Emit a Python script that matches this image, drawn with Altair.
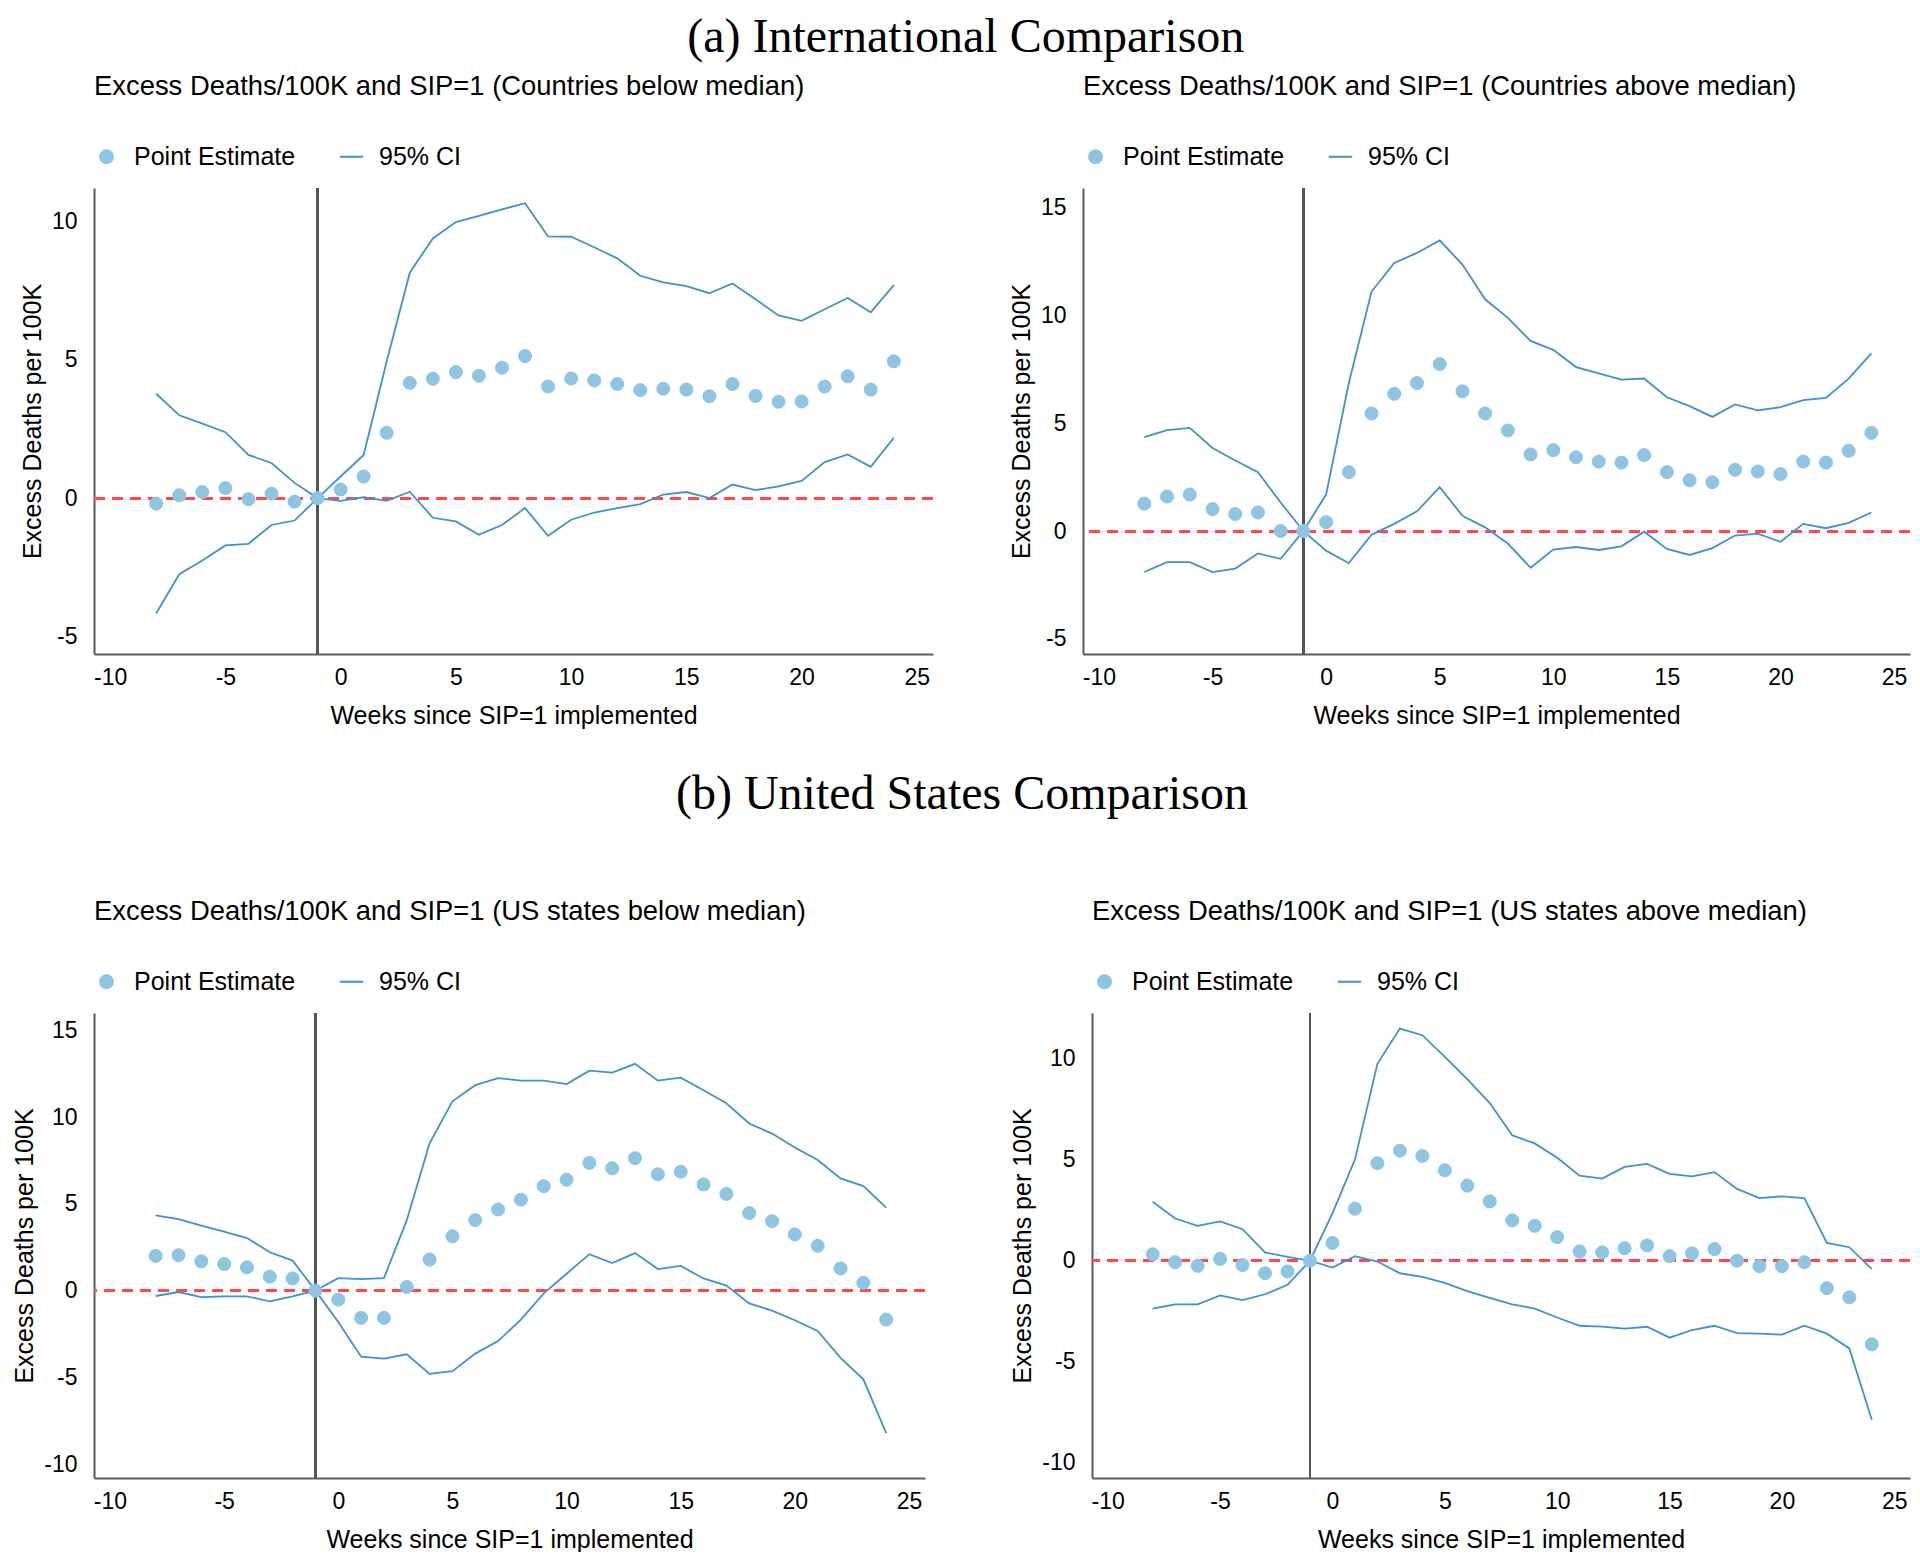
import altair as alt
import pandas as pd

weeks = list(range(-8, 25))

# (a) International, countries below median
a_est = [-0.2, 0.1, 0.22, 0.36, -0.04, 0.16, -0.13, 0.0, 0.31, 0.78, 2.36, 4.16, 4.31, 4.55, 4.42, 4.71,
         5.13, 4.03, 4.32, 4.25, 4.12, 3.9, 3.95, 3.92, 3.68, 4.12, 3.69, 3.48, 3.49, 4.03, 4.40, 3.92, 4.94]
a_hi = [3.77, 2.99, 2.69, 2.38, 1.56, 1.27, 0.55, 0.0, 0.78, 1.56, 4.94, 8.14, 9.38, 9.97, 10.19, 10.43,
        10.65, 9.45, 9.44, 9.06, 8.66, 8.03, 7.79, 7.66, 7.40, 7.75, 7.18, 6.60, 6.40, 6.82, 7.23, 6.71, 7.69]
a_lo = [-4.16, -2.75, -2.25, -1.71, -1.65, -0.97, -0.81, 0.0, -0.1, 0.03, -0.1, 0.23, -0.71, -0.84, -1.32, -0.97,
        -0.36, -1.36, -0.78, -0.52, -0.36, -0.22, 0.13, 0.22, 0.0, 0.49, 0.29, 0.42, 0.62, 1.30, 1.58, 1.13, 2.18]

# (a) International, countries above median
b_est = [1.27, 1.60, 1.69, 1.02, 0.79, 0.86, 0.0, 0.0, 0.41, 2.73, 5.45, 6.36, 6.86, 7.74, 6.48, 5.45,
         4.66, 3.55, 3.75, 3.42, 3.22, 3.17, 3.52, 2.73, 2.35, 2.26, 2.84, 2.76, 2.64, 3.22, 3.17, 3.72, 4.55]
b_hi = [4.35, 4.68, 4.78, 3.85, 3.27, 2.73, 1.32, 0.0, 1.69, 6.86, 11.1, 12.43, 12.89, 13.47, 12.35, 10.74,
        9.88, 8.81, 8.40, 7.60, 7.31, 7.02, 7.07, 6.20, 5.79, 5.29, 5.87, 5.59, 5.74, 6.07, 6.17, 7.06, 8.23]
b_lo = [-1.90, -1.44, -1.44, -1.90, -1.74, -1.04, -1.29, 0.0, -0.91, -1.49, -0.17, 0.33, 0.91, 2.03, 0.71, 0.17,
        -0.58, -1.70, -0.86, -0.74, -0.88, -0.71, -0.03, -0.83, -1.11, -0.79, -0.21, -0.12, -0.50, 0.33, 0.13, 0.38, 0.86]

# (b) United States, states below median
c_est = [2.0, 2.04, 1.69, 1.53, 1.34, 0.80, 0.70, 0.0, -0.52, -1.57, -1.57, 0.21, 1.79, 3.13, 4.06, 4.68,
         5.24, 6.02, 6.39, 7.36, 7.05, 7.63, 6.70, 6.85, 6.12, 5.57, 4.47, 4.0, 3.24, 2.58, 1.28, 0.45, -1.67]
c_hi = [4.33, 4.12, 3.75, 3.40, 3.03, 2.21, 1.73, 0.0, 0.72, 0.66, 0.72, 4.06, 8.49, 10.91, 11.84, 12.25,
        12.1, 12.1, 11.9, 12.68, 12.56, 13.07, 12.1, 12.27, 11.55, 10.80, 9.63, 9.05, 8.25, 7.53, 6.47, 6.02, 4.78]
c_lo = [-0.31, -0.08, -0.37, -0.33, -0.33, -0.62, -0.33, 0.0, -1.81, -3.81, -3.92, -3.67, -4.80, -4.64, -3.63, -2.91,
        -1.67, -0.16, 0.97, 2.10, 1.59, 2.16, 1.24, 1.42, 0.70, 0.29, -0.74, -1.15, -1.71, -2.33, -3.88, -5.11, -8.21]

# (b) United States, states above median
d_est = [0.32, -0.07, -0.25, 0.09, -0.21, -0.62, -0.53, 0.0, 0.88, 2.58, 4.83, 5.45, 5.19, 4.48, 3.72, 2.94,
         2.0, 1.73, 1.17, 0.46, 0.41, 0.62, 0.76, 0.23, 0.37, 0.58, 0.0, -0.27, -0.27, -0.07, -1.36, -1.81, -4.14]
d_hi = [2.92, 2.09, 1.73, 1.95, 1.56, 0.41, 0.19, 0.0, 2.35, 5.01, 9.75, 11.5, 11.17, 10.1, 8.99, 7.81,
        6.21, 5.81, 5.1, 4.21, 4.07, 4.65, 4.80, 4.30, 4.18, 4.39, 3.56, 3.10, 3.19, 3.10, 0.88, 0.67, -0.42]
d_lo = [-2.37, -2.16, -2.16, -1.72, -1.95, -1.66, -1.19, 0.0, -0.34, 0.23, -0.04, -0.62, -0.80, -1.10, -1.50, -1.84,
        -2.16, -2.37, -2.81, -3.22, -3.26, -3.36, -3.27, -3.81, -3.43, -3.22, -3.58, -3.61, -3.66, -3.22, -3.61, -4.34, -7.88]

series_names = ["Point Estimate", "95% CI"]
x_ticks = [-10, -5, 0, 5, 10, 15, 20, 25]

LIGHT = "#8ec5e2"
BLUE = "#3f90d6"
RED = "#ff4a4a"
SANS = "Liberation Sans"
SERIF = "Liberation Serif"
HYPHEN = "'' + datum.value"


def panel(title, est, hi, lo, ydom, yvals, width, height):
    n = len(weeks)
    df_pts = pd.DataFrame({"week": weeks, "value": est, "series": [series_names[0]] * n})
    df_ci = pd.DataFrame({
        "week": weeks + weeks,
        "value": hi + lo,
        "series": [series_names[1]] * (2 * n),
        "bound": ["upper"] * n + ["lower"] * n,
    })
    xsc = alt.Scale(domain=[-10.7, 25.7], nice=False, zero=False)
    ysc = alt.Scale(domain=ydom, nice=False, zero=False)
    xax = alt.Axis(values=x_ticks, title="Weeks since SIP=1 implemented", labelExpr=HYPHEN)
    yax = alt.Axis(values=yvals, title="Excess Deaths per 100K", labelExpr=HYPHEN)
    leg = alt.Legend(title=None, orient="top", direction="horizontal", symbolSize=169,
                     symbolStrokeWidth=2, labelFontSize=25, labelFont=SANS, labelColor="black",
                     labelOffset=15, labelLimit=400, columnPadding=39, padding=0, offset=18,
                     symbolOpacity=1)

    x_enc = alt.X("week:Q", scale=xsc, axis=xax)
    y_enc = alt.Y("value:Q", scale=ysc, axis=yax)

    zero = alt.Chart(df_pts).mark_rule(color=RED, strokeDash=[11, 7], strokeWidth=2.2).encode(
        y=alt.YDatum(0, scale=ysc, axis=yax)
    )
    vline = alt.Chart(df_pts).mark_rule(color="#555555", strokeWidth=1.6).encode(
        x=alt.XDatum(-1, scale=xsc, axis=xax)
    )
    lines = alt.Chart(df_ci).mark_line(strokeWidth=1.8).encode(
        x=x_enc, y=y_enc, detail="bound:N",
        stroke=alt.Stroke("series:N", scale=alt.Scale(domain=series_names, range=[LIGHT, BLUE]), legend=leg),
    )
    pts = alt.Chart(df_pts).mark_point(filled=True, size=170, opacity=1, strokeWidth=1).encode(
        x=x_enc, y=y_enc,
        fill=alt.Fill("series:N", scale=alt.Scale(domain=series_names, range=[LIGHT, BLUE]), legend=leg),
        stroke=alt.Stroke("series:N", scale=alt.Scale(domain=series_names, range=[LIGHT, BLUE]), legend=leg),
        shape=alt.Shape("series:N", scale=alt.Scale(domain=series_names, range=["circle", "M-1.8,0H1.8"]), legend=leg),
    )
    return alt.layer(zero, vline, lines, pts).properties(
        width=width, height=height,
        title=alt.TitleParams(title, anchor="start", frame="group", font=SANS, fontSize=27.4,
                              fontWeight="normal", color="black", offset=44),
    )


pA = panel("Excess Deaths/100K and SIP=1 (Countries below median)", a_est, a_hi, a_lo,
           [-5.63, 11.2], [-5, 0, 5, 10], 839, 466)
pB = panel("Excess Deaths/100K and SIP=1 (Countries above median)", b_est, b_hi, b_lo,
           [-5.7, 15.9], [-5, 0, 5, 10, 15], 827, 466)
pC = panel("Excess Deaths/100K and SIP=1 (US states below median)", c_est, c_hi, c_lo,
           [-10.8, 16.0], [-10, -5, 0, 5, 10, 15], 831, 465)
pD = panel("Excess Deaths/100K and SIP=1 (US states above median)", d_est, d_hi, d_lo,
           [-10.76, 12.27], [-10, -5, 0, 5, 10], 818, 465)

res = dict(x="independent", y="independent", fill="independent", stroke="independent", shape="independent")
leg_res = dict(fill="independent", stroke="independent", shape="independent")

top = alt.hconcat(pA, pB, spacing=74,
                  title=alt.TitleParams("(a) International Comparison", anchor="middle", font=SERIF,
                                        fontSize=48, fontWeight="normal", color="black", offset=11)
                  ).resolve_scale(**res).resolve_legend(**leg_res)
bottom = alt.hconcat(pC, pD, spacing=83,
                     title=alt.TitleParams("(b) United States Comparison", anchor="middle", font=SERIF,
                                           fontSize=48, fontWeight="normal", color="black", offset=79)
                     ).resolve_scale(**res).resolve_legend(**leg_res)

chart = alt.concat(top, bottom, columns=1, align="none", spacing=42).resolve_scale(**res).resolve_legend(
    **leg_res
).properties(padding={"left": 4, "top": 5, "right": 0, "bottom": 0}).configure_view(strokeWidth=0).configure_axis(
    grid=False, ticks=False, tickSize=0, domainColor="#5a5a5a", domainWidth=2,
    labelFont=SANS, labelFontSize=23, labelColor="black",
    titleFont=SANS, titleFontSize=25, titleFontWeight="normal", titleColor="black",
).configure_axisX(labelPadding=12, titlePadding=14).configure_axisY(labelPadding=17, titlePadding=6)

chart.save("out.html", embed_options={"renderer": "svg", "actions": False})
